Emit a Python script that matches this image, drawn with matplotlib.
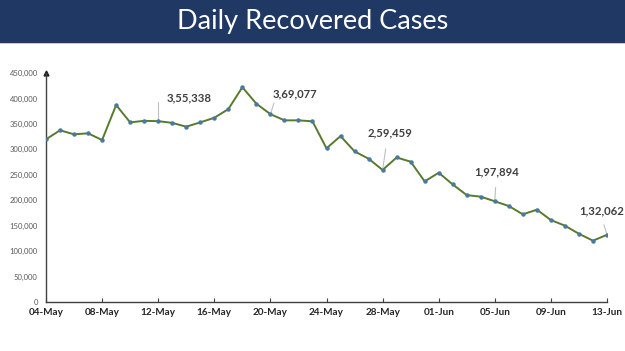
import matplotlib
matplotlib.use("Agg")
import matplotlib.pyplot as plt
from matplotlib.patches import Rectangle
import numpy as np
import datetime as dt

start = dt.date(2020, 5, 4)
values = [319700, 337400, 329500, 331500, 318300, 387000, 353000, 356000, 355338,
          352000, 344500, 353000, 362000, 379000, 422000, 389700, 369077, 357000,
          357000, 355000, 302000, 326000, 296000, 281600, 259459, 284000, 275700,
          237000, 254000, 231000, 210000, 207000, 197894, 188600, 172300, 181400,
          161000, 150000, 134000, 120500, 132062]
dates = [start + dt.timedelta(days=i) for i in range(len(values))]
tick_idx = list(range(0, 41, 4))
tick_labels = [dates[i].strftime("%d-%b") for i in tick_idx]
yticks = list(range(0, 450001, 50000))
annot_idx = [8, 16, 24, 32, 40]
annot_text = ["3,55,338", "3,69,077", "2,59,459", "1,97,894", "1,32,062"]

W, H = 625, 351
fig = plt.figure(figsize=(W / 100, H / 100), dpi=100)
fig.patch.set_facecolor("white")

# title band
fig.patches.append(Rectangle((0, 1 - 41 / H), 1, 41 / H, transform=fig.transFigure,
                             facecolor="#1F3864", edgecolor="none", zorder=0))
fig.patches.append(Rectangle((0, 1 - 42.5 / H), 1, 1.5 / H, transform=fig.transFigure,
                             facecolor="#3B2E55", edgecolor="none", zorder=0))
fig.patches.append(Rectangle((0, 1 - 44 / H), 1, 1.5 / H, transform=fig.transFigure,
                             facecolor="#D9C9A3", edgecolor="none", zorder=0))
fig.text(0.5, 1 - 21 / H, "Daily Recovered Cases", color="white", fontsize=19.5,
         family="Lato", ha="center", va="center")

ax = fig.add_axes([46 / W, 1 - 302 / H, (607 - 46) / W, (302 - 73) / H])
x = np.arange(len(values))
ax.plot(x, values, color="#587A2C", lw=1.4, zorder=3)
ax.plot(x, values, ls="none", marker="o", ms=2.2, color="#4A79A0", zorder=4)

ax.set_xlim(0, 40)
ax.set_ylim(0, 450000)
ax.set_xticks(tick_idx)
ax.set_xticklabels(tick_labels, fontsize=7.2, fontweight="bold", color="#262626", family="Lato")
ax.set_yticks(yticks)
ax.set_yticklabels([f"{v:,}" for v in yticks], fontsize=5.5, color="#595959", family="Lato")
ax.tick_params(axis="x", direction="in", length=3, width=0.8, color="#404040", pad=4)
ax.tick_params(axis="y", length=0, pad=6)
for s in ["top", "right"]:
    ax.spines[s].set_visible(False)
ax.spines["left"].set_color("#404040")
ax.spines["bottom"].set_color("#404040")
ax.spines["left"].set_linewidth(1.0)
ax.spines["bottom"].set_linewidth(1.0)
ax.plot([0], [1], marker="^", ms=3.5, color="#202020", transform=ax.transAxes, clip_on=False)

# annotation text positions in offset points relative to the data point
specs = [
    dict(off=(6, 13), ha="left", relpos=(0, 0.5), shrinkA=5,
         conn="angle,angleA=0,angleB=90,rad=0"),
    dict(off=(18, 11), ha="center", relpos=(0.05, 0.0), shrinkA=1, conn="arc3"),
    dict(off=(5, 23), ha="center", relpos=(0.45, 0.0), shrinkA=6, conn="arc3"),
    dict(off=(1, 17), ha="center", relpos=(0.5, 0.0), shrinkA=5, conn="arc3"),
    dict(off=(-4, 13), ha="center", relpos=(0.5, 0.0), shrinkA=4, conn="arc3"),
]
for i, t, sp in zip(annot_idx, annot_text, specs):
    ax.annotate(t, xy=(x[i], values[i]), xytext=sp["off"], textcoords="offset points",
                fontsize=8.2, fontweight="bold", color="#404040", family="Lato",
                ha=sp["ha"], va="bottom", annotation_clip=False,
                arrowprops=dict(arrowstyle="-", color="#BFBFBF", lw=0.8,
                                shrinkA=sp["shrinkA"], shrinkB=1, relpos=sp["relpos"],
                                connectionstyle=sp["conn"]))

fig.savefig("out.png", dpi=100, facecolor="white")
